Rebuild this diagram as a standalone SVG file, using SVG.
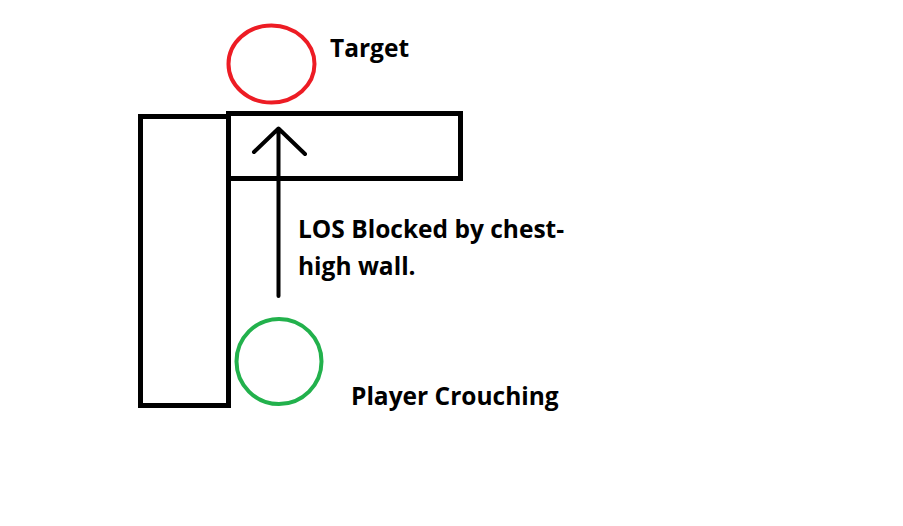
<svg xmlns="http://www.w3.org/2000/svg" width="903" height="526" viewBox="0 0 903 526">
<style>
.w{fill:none;stroke:#000;stroke-width:5}
.t{font-family:"Open Sans","Noto Sans",sans-serif;font-weight:bold;font-size:24.5px;fill:#000}
</style>
<rect width="903" height="526" fill="#fff"/>
<g id="wall-left"><rect class="w" x="140.5" y="116.5" width="88" height="289"/></g>
<g id="wall-chest"><rect class="w" x="228.5" y="113.5" width="232" height="65"/></g>
<g id="target"><ellipse cx="271.5" cy="64" rx="43" ry="38.5" fill="none" stroke="#ed1c24" stroke-width="4"/><text class="t" x="330" y="57">Target</text></g>
<g id="player"><circle cx="279" cy="361.5" r="42.5" fill="none" stroke="#22b14c" stroke-width="4"/><text class="t" x="351" y="404.5">Player Crouching</text></g>
<g id="connectors"><path d="M278.5 296V129M254 152L278.5 128.5L305 154" fill="none" stroke="#000" stroke-width="4" stroke-linecap="round" stroke-linejoin="round"/></g>
<g id="label"><text class="t" x="298" y="238">LOS Blocked by chest-</text><text class="t" x="298" y="275">high wall.</text></g>
</svg>
